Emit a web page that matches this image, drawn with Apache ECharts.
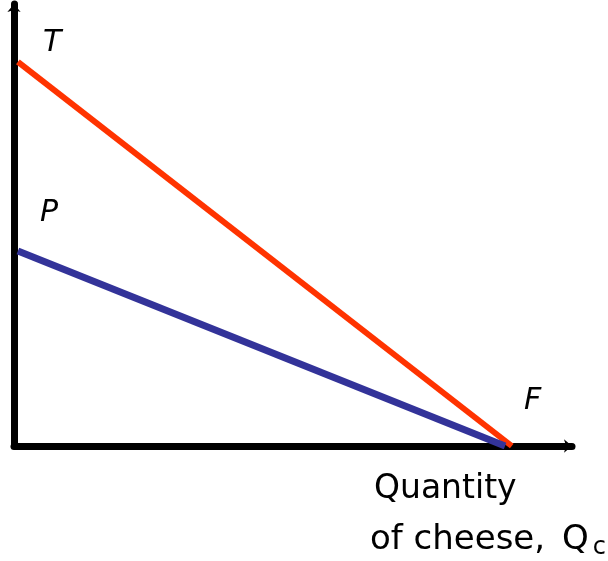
<!DOCTYPE html>
<html style="height: 100%">
<head>
  <meta charset="utf-8">
  <title>Cheese</title>
</head>
<body style="height: 100%; margin: 0; background: #fff">
  <div id="container" style="width: 608px; height: 561px"></div>
  <script src="https://cdn.jsdelivr.net/npm/echarts@6/dist/echarts.min.js"></script>
  <script type="text/javascript">
    // line end points (x = quantity, y = price)
    var lineT = [[0.7, 86.9], [89.2, 0]];
    var lineP = [[0.7, 44.1], [88.0, 0]];
    var pointLabels = ['T', 'P', 'F'];

    var myChart = echarts.init(document.getElementById('container'));
    var font = 'DejaVu Sans';
    var option = {
      animation: false,
      grid: { left: 14, right: 36, top: 4, bottom: 115 },
      xAxis: {
        type: 'value', min: 0, max: 100,
        axisLine: { lineStyle: { color: '#000', width: 7 }, symbol: ['none', 'arrow'], symbolSize: [10, 8] },
        axisTick: { show: false }, axisLabel: { show: false }, splitLine: { show: false }
      },
      yAxis: {
        type: 'value', min: 0, max: 100,
        axisLine: { lineStyle: { color: '#000', width: 7 }, symbol: ['none', 'arrow'], symbolSize: [10, 8] },
        axisTick: { show: false }, axisLabel: { show: false }, splitLine: { show: false }
      },
      series: [
        { type: 'line', data: lineT, symbol: 'none', lineStyle: { color: '#ff3300', width: 6 } },
        { type: 'line', data: lineP, symbol: 'none', lineStyle: { color: '#333399', width: 7 } }
      ],
      graphic: [
        { type: 'text', left: 43, top: 28, style: { text: pointLabels[0], font: 'italic 30px ' + font, fill: '#000' } },
        { type: 'text', left: 40, top: 198, style: { text: pointLabels[1], font: 'italic 30px ' + font, fill: '#000' } },
        { type: 'text', left: 524, top: 386, style: { text: pointLabels[2], font: 'italic 30px ' + font, fill: '#000' } },
        { type: 'text', left: 374, top: 473, style: { text: 'Quantity', font: '33px ' + font, fill: '#000' } },
        { type: 'text', left: 370, top: 523, style: {
            text: '{a|of cheese, }{q|Q}{b|c}',
            rich: {
              a: { fontFamily: font, fontSize: 34, color: '#000' },
              q: { fontFamily: font, fontSize: 34, color: '#000', padding: [0, 0, 0, 6] },
              b: { fontFamily: font, fontSize: 24, color: '#000', padding: [16, 0, 0, 4] }
            }
        } }
      ]
    };
    myChart.setOption(option, true);
  </script>
</body>
</html>
